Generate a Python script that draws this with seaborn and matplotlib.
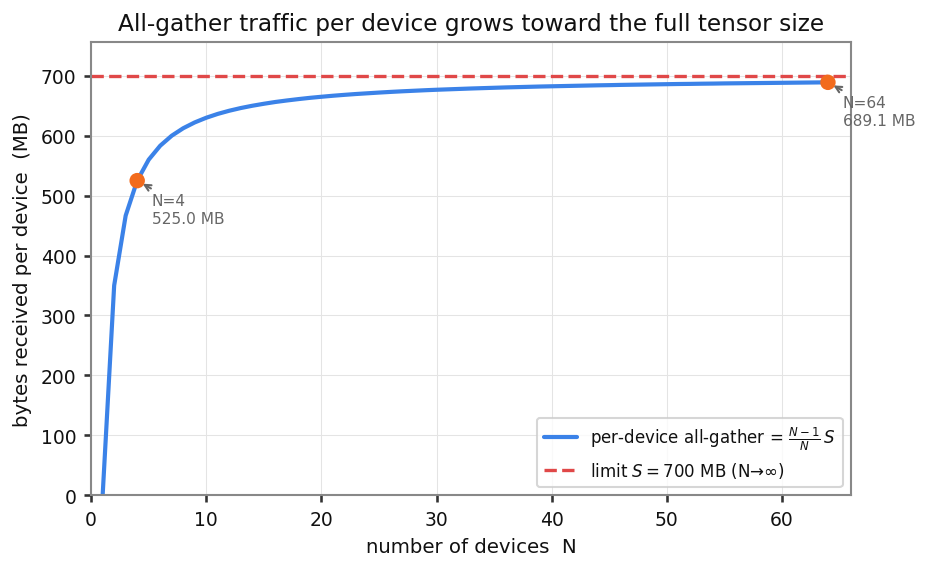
import matplotlib
matplotlib.use("Agg")
import matplotlib.pyplot as plt
import seaborn as sns
import pandas as pd

# ---- data ----
n_devices = list(range(1, 65))
traffic_mb = [
    0.0, 350.0, 466.7, 525.0, 560.0, 583.3, 600.0, 612.5, 622.2, 630.0,
    636.4, 641.7, 646.2, 650.0, 653.3, 656.3, 658.8, 661.1, 663.2, 665.0,
    666.7, 668.2, 669.6, 670.8, 672.0, 673.1, 674.1, 675.0, 675.9, 676.7,
    677.4, 678.1, 678.8, 679.4, 680.0, 680.6, 681.1, 681.6, 682.1, 682.5,
    682.9, 683.3, 683.7, 684.1, 684.4, 684.8, 685.1, 685.4, 685.7, 686.0,
    686.3, 686.5, 686.8, 687.0, 687.3, 687.5, 687.7, 687.9, 688.1, 688.3,
    688.5, 688.7, 688.9, 689.1,
]
limit_mb = 700
highlight_n = [4, 64]
highlight_mb = [525.0, 689.1]
x_ticks = [0, 10, 20, 30, 40, 50, 60]
y_ticks = [0, 100, 200, 300, 400, 500, 600, 700]

sns.set_theme(style="whitegrid", rc={
    "axes.edgecolor": "#888888",
    "axes.linewidth": 1.0,
    "grid.color": "#e4e4e4",
    "grid.linewidth": 0.5,
    "xtick.bottom": True,
    "ytick.left": True,
    "xtick.color": "#333333",
    "ytick.color": "#333333",
    "xtick.labelcolor": "#111111",
    "ytick.labelcolor": "#111111",
    "text.color": "#111111",
    "axes.labelcolor": "#111111",
    "xtick.major.size": 3.5,
    "ytick.major.size": 3.5,
})
plt.rcParams["font.family"] = ["DejaVu Sans"]

fig, ax = plt.subplots(figsize=(6.2, 3.7933), dpi=150)

df = pd.DataFrame({"N": n_devices, "MB": traffic_mb})
sns.lineplot(data=df, x="N", y="MB", ax=ax, color="#3b82e8", linewidth=2.0,
             label=r"per-device all-gather = $\frac{N-1}{N}\,S$")
ax.axhline(limit_mb, color="#e04848", linestyle="--", linewidth=1.6,
           label=r"limit $S = 700$ MB (N→∞)")
hl = pd.DataFrame({"N": highlight_n, "MB": highlight_mb})
sns.scatterplot(data=hl, x="N", y="MB", ax=ax, color="#f26b1d", s=55,
                edgecolor="none", zorder=5, legend=False)

for n, v in zip(highlight_n, highlight_mb):
    ax.annotate(f"N={n}\n{v:.1f} MB", xy=(n, v), xytext=(7, -6),
                textcoords="offset points", ha="left", va="top",
                fontsize=7.4, color="#666666", linespacing=1.25,
                arrowprops=dict(arrowstyle="->", color="#666666", lw=1.0,
                                shrinkA=0, shrinkB=3))

ax.set_xlim(0, 66)
ax.set_ylim(0, 756)
ax.set_xticks(x_ticks)
ax.set_yticks(y_ticks)
ax.tick_params(labelsize=9)
ax.set_xlabel("number of devices  N", fontsize=9.5)
ax.set_ylabel("bytes received per device  (MB)", fontsize=9.5)
ax.set_title("All-gather traffic per device grows toward the full tensor size",
             fontsize=11.2)
leg = ax.legend(loc="lower right", fontsize=8, frameon=True)

fig.subplots_adjust(left=0.098, right=0.915, top=0.924, bottom=0.128)
fig.savefig("out.png", dpi=150)
